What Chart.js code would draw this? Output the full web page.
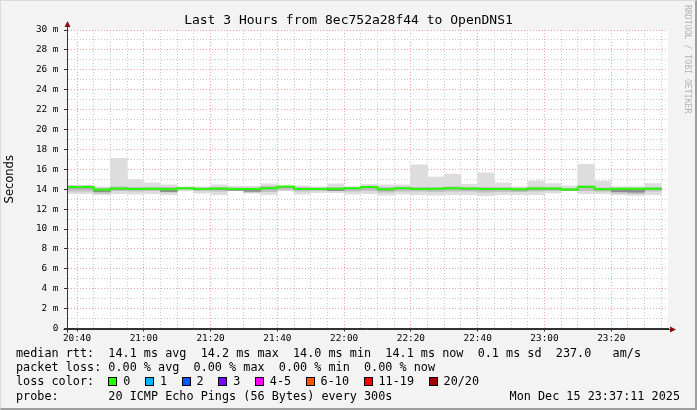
<!DOCTYPE html>
<html>
<head>
<meta charset="utf-8">
<script src="https://cdn.jsdelivr.net/npm/chart.js@4.4.1/dist/chart.umd.min.js"></script>
<style>
  body { margin: 0; background: #f3f3f3; }
  #wrap { position: relative; width: 697px; height: 410px; background: #f3f3f3; overflow: hidden; }
  #chart { position: absolute; left: 0; top: 0; }
  .mono { position: absolute; font-family: 'DejaVu Sans Mono', monospace; color: #000; white-space: pre; }
  #title { left: 0; width: 697px; text-align: center; top: 11.5px; font-size: 13px; line-height: 15px; }
  #brand { left: 683px; top: 5px; font-size: 8.2px; line-height: 10px; color: #b4b4b4; writing-mode: vertical-rl; }
  #legend { left: 16px; top: 345.9px; font-size: 11.8px; line-height: 14.3px; }
  #stamp { right: 17px; top: 388.8px; font-size: 11.8px; line-height: 14.3px; }
  .box { display: inline-block; width: 7px; height: 7px; border: 1px solid #000; margin-right: 6px; vertical-align: -1px; }
  .item { margin-right: 14.5px; }
  #frame { position: absolute; left: 0; top: 0; right: 0; bottom: 0; border-style: solid; border-width: 1px 2px 2px 1px;
           border-color: #dadada #9e9e9e #9e9e9e #dadada; pointer-events: none; }
</style>
</head>
<body>
<div id="wrap">
  <canvas id="chart" width="697" height="410"></canvas>
  <div id="title" class="mono">Last 3 Hours from 8ec752a28f44 to OpenDNS1</div>
  <div id="brand" class="mono">RRDTOOL / TOBI OETIKER</div>
  <div id="legend" class="mono"><div>median rtt:  14.1 ms avg  14.2 ms max  14.0 ms min  14.1 ms now  0.1 ms sd  237.0   am/s</div><div>packet loss: 0.00 % avg  0.00 % max  0.00 % min  0.00 % now</div><div id="losscolors">loss color:  </div><div>probe:       20 ICMP Echo Pings (56 Bytes) every 300s</div></div>
  <div id="stamp" class="mono">Mon Dec 15 23:37:11 2025</div>
  <div id="frame"></div>
</div>
<script>
// 5 minute slots (start time of each step)
const slots = ['20:35','20:40','20:45','20:50','20:55','21:00','21:05','21:10','21:15','21:20','21:25','21:30',
  '21:35','21:40','21:45','21:50','21:55','22:00','22:05','22:10','22:15','22:20','22:25','22:30',
  '22:35','22:40','22:45','22:50','22:55','23:00','23:05','23:10','23:15','23:20','23:25','23:30'];
const slotEnd = '23:35';
const viewStart = '20:37';
const viewEnd = '23:37';

// median rtt (ms)
const median = [14.22,14.22,13.94,14.06,14.03,14.05,14.00,14.10,14.03,14.07,14.03,14.03,
  14.10,14.26,14.03,14.03,14.05,14.10,14.22,14.00,14.10,14.03,14.05,14.10,
  14.06,14.03,14.03,13.99,14.06,14.06,13.97,14.25,14.00,14.05,14.05,14.05];

// smoke: outer (min/max ping), mid and inner bands
const outerLo = [13.56,13.56,13.46,13.56,13.50,13.56,13.45,13.85,13.60,13.46,13.90,13.60,
  13.45,13.90,13.50,13.65,13.65,13.50,13.55,13.40,13.50,13.45,13.40,13.45,
  13.45,13.35,13.45,13.45,13.45,13.60,13.90,13.55,13.55,13.45,13.38,13.45];
const outerHi = [14.40,14.40,14.25,17.10,14.97,14.63,14.43,14.25,14.25,14.43,14.30,14.30,
  14.55,14.30,14.35,14.25,14.55,14.25,14.50,14.43,14.43,16.44,15.23,15.53,
  14.50,15.64,14.63,14.25,14.83,14.56,14.35,16.51,14.83,14.25,14.25,14.56];
const midLo = [13.80,13.80,13.60,13.85,13.80,13.85,13.70,13.95,13.85,13.80,13.90,13.70,
  13.75,13.90,13.80,13.85,13.85,13.80,13.85,13.70,13.80,13.80,13.75,13.80,
  13.80,13.70,13.75,13.75,13.80,13.85,13.90,13.85,13.80,13.60,13.55,13.80];
const midHi = [14.32,14.32,14.10,14.25,14.18,14.20,14.20,14.20,14.15,14.20,14.15,14.15,
  14.30,14.30,14.18,14.15,14.20,14.18,14.30,14.18,14.22,14.20,14.18,14.25,
  14.20,14.18,14.18,14.12,14.22,14.20,14.10,14.35,14.15,14.15,14.15,14.18];
const innerLo = [14.10,14.10,13.75,13.98,13.95,13.97,13.75,14.05,13.97,13.98,13.88,13.78,
  14.02,14.18,13.95,13.95,13.85,14.02,14.12,13.90,14.02,13.95,13.97,14.02,
  13.98,13.92,13.95,13.90,13.98,13.98,13.88,14.16,13.92,13.75,13.70,13.97];
const innerHi = [14.25,14.25,14.00,14.12,14.08,14.10,14.05,14.12,14.06,14.10,14.06,14.06,
  14.14,14.28,14.06,14.06,14.08,14.12,14.25,14.04,14.13,14.06,14.08,14.13,
  14.09,14.06,14.06,14.02,14.09,14.09,14.00,14.28,14.04,14.08,14.08,14.08];

const xTickLabels = ['20:40','21:00','21:20','21:40','22:00','22:20','22:40','23:00','23:20'];
const yTickLabels = ['0','2 m','4 m','6 m','8 m','10 m','12 m','14 m','16 m','18 m','20 m','22 m','24 m','26 m','28 m','30 m'];

const lossLabels = ['0','1','2','3','4-5','6-10','11-19','20/20'];
const lossColors = ['#26ff00','#00b8ff','#0059ff','#7e00ff','#ff00ff','#ff5500','#ff0000','#a10000'];

const lc = document.getElementById('losscolors');
lossLabels.forEach((l, i) => {
  const s = document.createElement('span');
  s.className = 'item';
  s.innerHTML = `<span class="box" style="background:${lossColors[i]}"></span>${l}`;
  lc.appendChild(s);
});

const toMin = s => { const p = s.split(':'); return +p[0] * 60 + +p[1]; };
const fmt = m => String(Math.floor(m / 60)).padStart(2, '0') + ':' + String(m % 60).padStart(2, '0');

const xTicks = [];
for (let t = toMin('20:40'); t < toMin(viewEnd); t += 5) xTicks.push(t);
const yTicks = [];
for (let v = 0; v <= 30; v++) yTicks.push(v);

const MONO = "'DejaVu Sans Mono', monospace";
const PINK = '#f2a4a4';
const GREY = '#c8c8c8';

const layer = (lo, hi, color, order) => ({
  type: 'bar',
  data: slots.map((s, i) => ({ x: toMin(s) + 2.5, y: [lo[i], hi[i]] })),
  backgroundColor: color,
  borderWidth: 0,
  barPercentage: 1,
  categoryPercentage: 1,
  grouped: false,
  order: order
});

const plotBg = {
  id: 'plotBg',
  beforeDraw(chart) {
    const a = chart.chartArea, ctx = chart.ctx;
    ctx.save();
    ctx.fillStyle = '#ffffff';
    ctx.fillRect(a.left, a.top, a.right - a.left, a.bottom - a.top);
    ctx.restore();
  }
};

const axisArrows = {
  id: 'axisArrows',
  afterDraw(chart) {
    const a = chart.chartArea, ctx = chart.ctx;
    const xl = Math.round(a.left) + 0.5, yb = Math.round(a.bottom) + 0.5;
    ctx.save();
    ctx.strokeStyle = '#333';
    ctx.lineWidth = 1;
    ctx.beginPath();
    ctx.moveTo(xl, a.top - 4); ctx.lineTo(xl, yb + 3);
    ctx.moveTo(xl - 4, yb); ctx.lineTo(a.right + 3, yb);
    ctx.stroke();
    ctx.fillStyle = '#8b1010';
    ctx.beginPath();
    ctx.moveTo(xl, a.top - 9); ctx.lineTo(xl - 3, a.top - 3); ctx.lineTo(xl + 3, a.top - 3);
    ctx.closePath(); ctx.fill();
    ctx.beginPath();
    ctx.moveTo(a.right + 8, yb); ctx.lineTo(a.right + 2, yb - 3); ctx.lineTo(a.right + 2, yb + 3);
    ctx.closePath(); ctx.fill();
    ctx.restore();
  }
};

new Chart(document.getElementById('chart'), {
  type: 'bar',
  data: {
    datasets: [
      {
        type: 'line',
        data: slots.map((s, i) => ({ x: toMin(s), y: median[i] })).concat([{ x: toMin(slotEnd), y: median[median.length - 1] }]),
        borderColor: lossColors[0],
        borderWidth: 2,
        pointRadius: 0,
        stepped: true,
        fill: false,
        order: 0
      },
      layer(innerLo, innerHi, '#8c8c8c', 1),
      layer(midLo, midHi, '#c0c0c0', 2),
      layer(outerLo, outerHi, '#dddddd', 3)
    ]
  },
  options: {
    responsive: false,
    animation: false,
    events: [],
    layout: { padding: { left: 0, top: 30, right: 29, bottom: 61.5 } },
    plugins: { legend: { display: false }, tooltip: { enabled: false }, title: { display: false } },
    scales: {
      x: {
        type: 'linear',
        min: toMin(viewStart),
        max: toMin(viewEnd),
        offset: false,
        z: 1,
        afterBuildTicks: s => { s.ticks = xTicks.map(v => ({ value: v })); },
        afterFit: s => { s.height = 20; },
        ticks: {
          autoSkip: false, maxRotation: 0, minRotation: 0, padding: 1,
          font: { family: MONO, size: 9.4 }, color: '#000',
          callback: v => xTickLabels.includes(fmt(v)) ? fmt(v) : ''
        },
        grid: {
          offset: false,
          color: c => xTickLabels.includes(fmt(c.tick.value)) ? PINK : GREY,
          tickLength: 3,
          tickColor: c => xTickLabels.includes(fmt(c.tick.value)) ? '#333' : 'rgba(0,0,0,0)'
        },
        border: { display: true, color: '#333', dash: [1, 2] }
      },
      y: {
        type: 'linear',
        min: 0,
        max: 30,
        z: 1,
        afterBuildTicks: s => { s.ticks = yTicks.map(v => ({ value: v })); },
        afterFit: s => { s.width = 67; },
        ticks: {
          autoSkip: false, padding: 5.5,
          font: { family: MONO, size: 9.4 }, color: '#000',
          callback: v => v % 2 === 0 ? yTickLabels[v / 2] : ''
        },
        grid: {
          color: c => c.tick.value % 2 === 0 ? PINK : GREY,
          tickLength: 3,
          tickColor: c => c.tick.value % 2 === 0 ? '#333' : 'rgba(0,0,0,0)'
        },
        border: { display: true, color: '#333', dash: [1, 2] },
        title: {
          display: true, text: 'Seconds', color: '#000',
          font: { family: "'DejaVu Sans', sans-serif", size: 11.5 },
          padding: { top: 3, bottom: 0 }
        }
      }
    }
  },
  plugins: [plotBg, axisArrows]
});
</script>
</body>
</html>
